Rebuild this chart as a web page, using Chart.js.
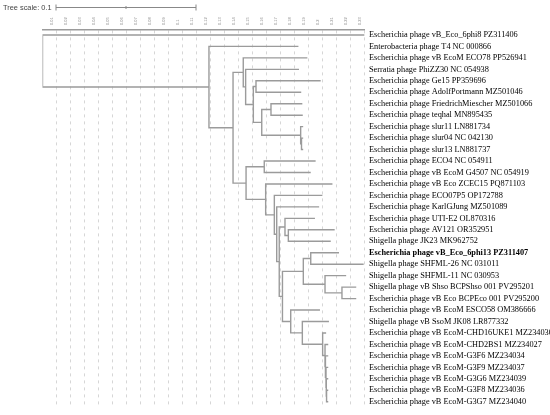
<!DOCTYPE html>
<html>
<head>
<meta charset="utf-8">
<script src="https://cdn.jsdelivr.net/npm/chart.js@4.4.1/dist/chart.umd.min.js"></script>
<style>
  html, body { margin: 0; padding: 0; background: #fff; }
  #wrap { width: 550px; height: 415px; }
</style>
</head>
<body>
<div id="wrap"><canvas id="tree" width="550" height="415"></canvas></div>
<script>
// leaf labels, top to bottom
const leafNames = [
  'Escherichia phage vB_Eco_6phi8 PZ311406',
  'Enterobacteria phage T4 NC 000866',
  'Escherichia phage vB EcoM ECO78 PP526941',
  'Serratia phage PhiZZ30 NC 054938',
  'Escherichia phage Ge15 PP359696',
  'Escherichia phage AdolfPortmann MZ501046',
  'Escherichia phage FriedrichMiescher MZ501066',
  'Escherichia phage teqhal MN895435',
  'Escherichia phage slur11 LN881734',
  'Escherichia phage slur04 NC 042130',
  'Escherichia phage slur13 LN881737',
  'Escherichia phage ECO4 NC 054911',
  'Escherichia phage vB EcoM G4507 NC 054919',
  'Escherichia phage vB Eco ZCEC15 PQ871103',
  'Escherichia phage ECO07P5 OP172788',
  'Escherichia phage KarlGJung MZ501089',
  'Escherichia phage UTI-E2 OL870316',
  'Escherichia phage AV121 OR352951',
  'Shigella phage JK23 MK962752',
  'Escherichia phage vB_Eco_6phi13 PZ311407',
  'Shigella phage SHFML-26 NC 031011',
  'Shigella phage SHFML-11 NC 030953',
  'Shigella phage vB Shso BCPShso 001 PV295201',
  'Escherichia phage vB Eco BCPEco 001 PV295200',
  'Escherichia phage vB EcoM ESCO58 OM386666',
  'Shigella phage vB SsoM JK08 LR877332',
  'Escherichia phage vB EcoM-CHD16UKE1 MZ234030',
  'Escherichia phage vB EcoM-CHD2BS1 MZ234027',
  'Escherichia phage vB EcoM-G3F6 MZ234034',
  'Escherichia phage vB EcoM-G3F9 MZ234037',
  'Escherichia phage vB EcoM-G3G6 MZ234039',
  'Escherichia phage vB EcoM-G3F8 MZ234036',
  'Escherichia phage vB EcoM-G3G7 MZ234040'
];
const highlightLeaf = 19; // bold one

// distance from root of each leaf tip
const leafDepth = [
  0.2296, 0.1823, 0.1887, 0.1827, 0.1982, 0.1843, 0.1851, 0.1854, 0.1857, 0.1857,
  0.1857, 0.1946, 0.1911, 0.2066, 0.1994, 0.1971, 0.1941, 0.2082, 0.2054, 0.2113,
  0.2289, 0.2164, 0.2236, 0.2236, 0.1977, 0.2041, 0.2021, 0.2036, 0.2036, 0.2036,
  0.2036, 0.2036, 0.2036
];
// internal node each leaf hangs from
const leafParent = [
  0, 1, 3, 4, 6, 6, 8, 8, 9, 10,
  10, 12, 12, 13, 14, 15, 17, 18, 18, 21,
  21, 22, 23, 23, 24, 25, 26, 27, 28, 29,
  30, 31, 31
];

// internal nodes: distance from root and parent node (-1 = root)
const nodeDepth = [
  0, 0.1189, 0.1361, 0.1434, 0.1451, 0.1506, 0.1525, 0.1566, 0.1632, 0.1844,
  0.1850, 0.1454, 0.1584, 0.1594, 0.1656, 0.1673, 0.1691, 0.1732, 0.1756, 0.1714,
  0.1863, 0.1916, 0.2018, 0.2139, 0.1773, 0.1856, 0.2001, 0.2018, 0.2021, 0.2025,
  0.2027, 0.2029
];
const nodeParent = [
  -1, 0, 1, 2, 3, 4, 5, 5, 7, 7,
  9, 2, 11, 11, 13, 14, 15, 16, 17, 16,
  19, 20, 20, 22, 19, 24, 25, 26, 27, 28,
  29, 30
];

// top axis ticks
const tickValues = [0.01, 0.02, 0.03, 0.04, 0.05, 0.06, 0.07, 0.08, 0.09, 0.1, 0.11, 0.12,
  0.13, 0.14, 0.15, 0.16, 0.17, 0.18, 0.19, 0.2, 0.21, 0.22, 0.23];
const tickLabels = ['0.01', '0.02', '0.03', '0.04', '0.05', '0.06', '0.07', '0.08', '0.09', '0.1',
  '0.11', '0.12', '0.13', '0.14', '0.15', '0.16', '0.17', '0.18', '0.19', '0.2', '0.21', '0.22', '0.23'];

const scaleLength = 0.1;

// ---- layout of the tree (row positions) ----
const kids = nodeDepth.map(() => []);
leafParent.forEach((p, i) => kids[p].push({ leaf: true, i }));
nodeParent.forEach((p, j) => { if (p >= 0) kids[p].push({ leaf: false, i: j }); });

const nodeY = [];
function yOf(c) {
  if (c.leaf) return c.i + 1;
  if (nodeY[c.i] === undefined) {
    const ys = kids[c.i].map(yOf);
    nodeY[c.i] = (Math.min(...ys) + Math.max(...ys)) / 2;
  }
  return nodeY[c.i];
}
yOf({ leaf: false, i: 0 });

const pts = [];
function seg(x1, y1, x2, y2) {
  pts.push({ x: x1, y: y1 }, { x: x2, y: y2 }, { x: x2, y: null });
}
leafDepth.forEach((d, i) => seg(nodeDepth[leafParent[i]], i + 1, d, i + 1));
nodeDepth.forEach((d, j) => {
  const ys = kids[j].map(yOf);
  seg(d, Math.min(...ys), d, Math.max(...ys));
  if (nodeParent[j] >= 0) seg(nodeDepth[nodeParent[j]], nodeY[j], d, nodeY[j]);
});

const branchColor = '#9b9b9b';

const treeScale = {
  id: 'treeScale',
  afterDraw(chart) {
    const { ctx, scales: { x } } = chart;
    const len = x.getPixelForValue(scaleLength) - x.getPixelForValue(0);
    const x0 = 56, y0 = 7.5;
    ctx.save();
    ctx.fillStyle = '#444';
    ctx.font = '7.4px "Liberation Sans", Arial, sans-serif';
    ctx.textBaseline = 'middle';
    ctx.fillText('Tree scale: ' + scaleLength, 3, y0);
    ctx.strokeStyle = '#888';
    ctx.lineWidth = 1;
    ctx.beginPath();
    ctx.moveTo(x0, y0); ctx.lineTo(x0 + len, y0);
    ctx.moveTo(x0, y0 - 3); ctx.lineTo(x0, y0 + 3);
    ctx.moveTo(x0 + len, y0 - 3); ctx.lineTo(x0 + len, y0 + 3);
    ctx.moveTo(x0 + len / 2, y0 - 1.5); ctx.lineTo(x0 + len / 2, y0 + 1.5);
    ctx.stroke();
    ctx.restore();
  }
};

new Chart(document.getElementById('tree'), {
  type: 'line',
  data: {
    datasets: [{
      data: pts,
      borderColor: branchColor,
      borderWidth: 1.4,
      pointRadius: 0,
      tension: 0,
      spanGaps: false,
      borderCapStyle: 'square'
    }]
  },
  options: {
    responsive: false,
    animation: false,
    layout: { padding: { left: 42.5, right: 0, top: 0, bottom: 5 } },
    plugins: { legend: { display: false }, tooltip: { enabled: false } },
    scales: {
      x: {
        type: 'linear',
        position: 'top',
        min: 0,
        max: 0.23,
        afterBuildTicks: s => { s.ticks = tickValues.map(v => ({ value: v })); },
        afterFit: s => { s.height = 30; },
        grid: { color: '#d6d6d6', lineWidth: 1, drawTicks: false },
        border: { display: true, color: branchColor, width: 1.4, dash: [3, 4] },
        ticks: {
          autoSkip: false,
          minRotation: 90,
          maxRotation: 90,
          padding: 5,
          color: '#888',
          font: { size: 4, family: 'Liberation Sans' },
          callback: (v, i) => tickLabels[i]
        }
      },
      y: {
        type: 'linear',
        position: 'right',
        reverse: true,
        min: 0.569,
        max: 33.33,
        afterBuildTicks: s => { s.ticks = leafNames.map((n, i) => ({ value: i + 1 })); },
        afterFit: s => { s.width = 185.5; },
        grid: { display: false, drawTicks: false },
        border: { display: false },
        ticks: {
          autoSkip: false,
          padding: 4.5,
          color: '#000',
          font: c => ({ family: '"Liberation Serif", "Times New Roman", serif', size: 8.3,
            weight: c.index === highlightLeaf ? 'bold' : 'normal' }),
          callback: (v, i) => leafNames[i]
        }
      }
    }
  },
  plugins: [treeScale]
});
</script>
</body>
</html>
